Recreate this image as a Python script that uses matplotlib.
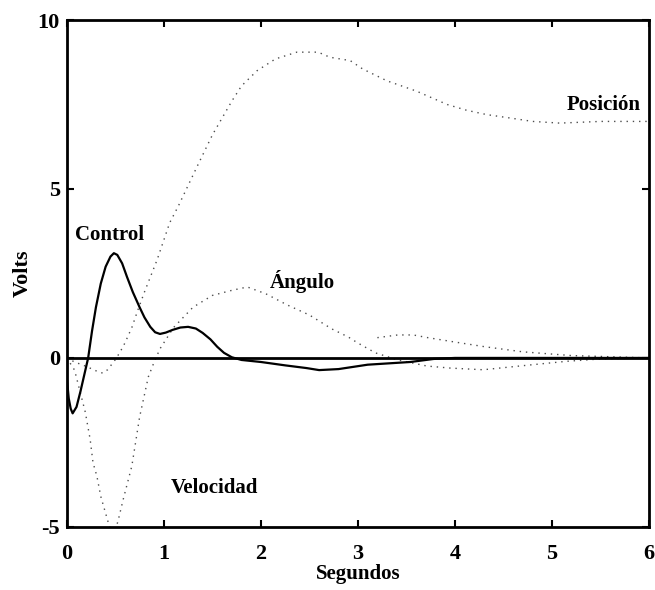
import numpy as np
import matplotlib
matplotlib.use("Agg")
import matplotlib.pyplot as plt

plt.rcParams['font.family'] = ['Liberation Serif', 'DejaVu Serif']

# data (time in s, volts)
control_t = [0, 0.02, 0.04, 0.06, 0.1, 0.14, 0.18, 0.22, 0.26, 0.3, 0.35, 0.4, 0.45, 0.485,
             0.52, 0.57, 0.62, 0.68, 0.75, 0.8, 0.86, 0.91, 0.96, 1.02, 1.09, 1.17, 1.25,
             1.33, 1.4, 1.48, 1.55, 1.62, 1.7, 1.8, 2.0, 2.25, 2.47, 2.6, 2.8, 3.1,
             3.54, 3.78, 4.0, 6.0]
control_v = [-0.6, -1.2, -1.5, -1.64, -1.45, -1.0, -0.5, 0.0, 0.8, 1.5, 2.2, 2.7, 3.0, 3.1,
             3.05, 2.8, 2.4, 1.95, 1.5, 1.2, 0.92, 0.76, 0.71, 0.75, 0.83, 0.9, 0.92,
             0.87, 0.74, 0.55, 0.33, 0.15, 0.02, -0.06, -0.12, -0.22, -0.3, -0.36, -0.33, -0.2,
             -0.12, -0.03, 0.0, 0.0]

posicion_t = [0, 0.08, 0.2, 0.3, 0.37, 0.42, 0.5, 0.55, 0.6, 0.67, 0.73, 0.8, 0.93, 1.06,
              1.15, 1.34, 1.5, 1.6, 1.7, 1.8, 1.96, 2.15, 2.37, 2.59, 2.71, 2.92, 3.05, 3.3,
              3.6, 3.92, 4.12, 4.33, 4.57, 4.8, 5.08, 5.5, 6.0]
posicion_v = [0, -0.12, -0.25, -0.38, -0.45, -0.35, -0.05, 0.18, 0.45, 0.9, 1.4, 1.95, 2.9, 4.0,
              4.5, 5.65, 6.6, 7.1, 7.6, 8.05, 8.5, 8.85, 9.05, 9.05, 8.9, 8.8, 8.55, 8.2,
              7.9, 7.5, 7.33, 7.2, 7.1, 7.0, 6.95, 7.0, 7.0]

velocidad_t = [0, 0.08, 0.19, 0.24, 0.27, 0.31, 0.35, 0.41, 0.43, 0.48, 0.53, 0.58, 0.67, 0.75,
               0.84, 0.9, 0.96, 1.1, 1.3, 1.5, 1.7, 1.86, 2.05, 2.27, 2.5, 2.73, 2.9, 3.0,
               3.18, 3.4, 3.71, 3.95, 4.29, 4.46, 4.8, 5.15, 5.5, 6.0]
velocidad_v = [0, -0.36, -1.6, -2.4, -3.1, -3.5, -4.1, -4.7, -4.9, -5.3, -4.8, -4.2, -3.2, -1.75,
               -0.56, -0.12, 0.27, 0.9, 1.5, 1.85, 2.0, 2.1, 1.9, 1.57, 1.27, 0.86, 0.62, 0.44,
               0.15, -0.05, -0.24, -0.3, -0.35, -0.3, -0.2, -0.1, -0.03, 0.0]

angulo_t = [3.2, 3.41, 3.57, 3.72, 4.0, 4.31, 4.7, 5.2, 6.0]
angulo_v = [0.6, 0.68, 0.68, 0.6, 0.47, 0.33, 0.18, 0.07, 0.0]

labels = ["Control", "Ángulo", "Velocidad", "Posición"]
label_pos = [(0.44, 3.64), (2.43, 2.25), (1.52, -3.85), (5.53, 7.5)]

x_ticks = [0, 1, 2, 3, 4, 5, 6]
y_ticks = [-5, 0, 5, 10]
y_tick_labels = ["-5", "0", "5", "10"]

fig = plt.figure(figsize=(6.55, 5.90), dpi=100)
ax = fig.add_axes([0.102, 0.107, 0.889, 0.859])

dot = dict(color='0.3', linewidth=1.0, linestyle=(0, (1, 3.5)))
ax.plot(posicion_t, posicion_v, **dot)
ax.plot(velocidad_t, velocidad_v, **dot)
ax.plot(angulo_t, angulo_v, **dot)
ax.axhline(0, color='black', linewidth=2)
ax.plot(control_t, control_v, color='black', linewidth=1.6)

for txt, (x, y) in zip(labels, label_pos):
    ax.text(x, y, txt, ha='center', va='center', fontsize=15, fontweight='bold')

ax.set_xlim(0, 6)
ax.set_ylim(-5, 10)
ax.set_xticks(x_ticks)
ax.set_yticks(y_ticks)
ax.set_yticklabels(y_tick_labels)
ax.tick_params(direction='in', length=5, width=1.5, top=True, right=True,
               labelsize=16, pad=5)
ax.tick_params(axis='x', pad=12)
for lab in ax.get_xticklabels() + ax.get_yticklabels():
    lab.set_fontweight('bold')
for s in ax.spines.values():
    s.set_linewidth(2)

ax.set_xlabel("Segundos", fontsize=15, fontweight='bold', labelpad=0)
ax.set_ylabel("Volts", fontsize=16, fontweight='bold')
ax.yaxis.set_label_coords(-0.058, 0.5)

fig.savefig("out.png", dpi=100)
